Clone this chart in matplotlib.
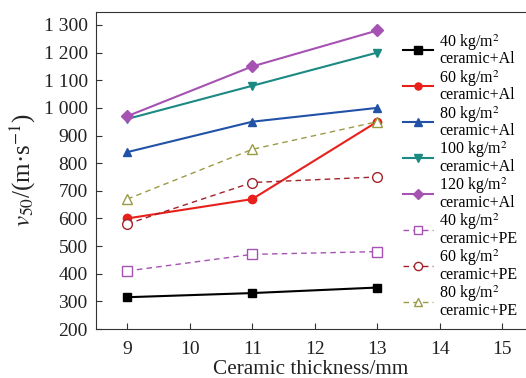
import matplotlib
matplotlib.use("Agg")
import matplotlib.pyplot as plt

thickness = [9, 11, 13]
al_40 = [315, 330, 350]
al_60 = [600, 670, 950]
al_80 = [840, 950, 1000]
al_100 = [960, 1080, 1200]
al_120 = [970, 1150, 1280]
pe_40 = [410, 470, 480]
pe_60 = [580, 730, 750]
pe_80 = [670, 850, 950]

labels = ["40 kg/m$^2$\nceramic+Al", "60 kg/m$^2$\nceramic+Al", "80 kg/m$^2$\nceramic+Al",
          "100 kg/m$^2$\nceramic+Al", "120 kg/m$^2$\nceramic+Al",
          "40 kg/m$^2$\nceramic+PE", "60 kg/m$^2$\nceramic+PE", "80 kg/m$^2$\nceramic+PE"]
xticks = [9, 10, 11, 12, 13, 14, 15]
yticks = [200, 300, 400, 500, 600, 700, 800, 900, 1000, 1100, 1200, 1300]
ytick_labels = ["200", "300", "400", "500", "600", "700", "800", "900",
                "1 000", "1 100", "1 200", "1 300"]

plt.rcParams['font.family'] = ['Liberation Serif', 'DejaVu Serif']
plt.rcParams['mathtext.fontset'] = 'stix'

fig = plt.figure(figsize=(5.26, 3.78), dpi=100)
ax = fig.add_axes([96/526, 1-329/378, 1-96/526, (329-11.7)/378])

series = [
    (al_40, dict(color='black', marker='s', ls='-', mfc='black')),
    (al_60, dict(color='#e8201c', marker='o', ls='-', mfc='#e8201c')),
    (al_80, dict(color='#2152a8', marker='^', ls='-', mfc='#2152a8')),
    (al_100, dict(color='#1b8a82', marker='v', ls='-', mfc='#1b8a82')),
    (al_120, dict(color='#a652b3', marker='D', ls='-', mfc='#a652b3')),
    (pe_40, dict(color='#a652b3', marker='s', ls='--', mfc='white')),
    (pe_60, dict(color='#a3232a', marker='o', ls='--', mfc='white')),
    (pe_80, dict(color='#9c9b45', marker='^', ls='--', mfc='white')),
]
for (vals, st), lab in zip(series, labels):
    lw = 1.5 if st['ls'] == '-' else 1.0
    ms = 6 if st['ls'] == '-' else 7
    if st['marker'] == 'D':
        ms = 6
    ax.plot(thickness, vals, color=st['color'], marker=st['marker'], ls=st['ls'],
            mfc=st['mfc'], mec=st['color'], lw=lw, ms=ms, label=lab,
            dashes=(4, 3) if st['ls'] == '--' else (None, None))

ax.set_xlim(8.5, 8.5 + 430/62.5)
ax.set_ylim(200, 1348)
ax.set_xticks(xticks)
ax.set_xticklabels([str(t) for t in xticks])
ax.set_yticks(yticks)
ax.set_yticklabels(ytick_labels)
ax.tick_params(direction='in', labelsize=14, length=4, color='#333333', labelcolor='#222222')
ax.tick_params(axis='x', pad=9)
ax.tick_params(axis='y', pad=6)
ax.spines['right'].set_visible(False)
for s in ['top', 'left', 'bottom']:
    ax.spines[s].set_color('#333333')
ax.set_xlabel("Ceramic thickness/mm", fontsize=15.3, labelpad=1, color='#222222')
ax.set_ylabel("$v_{50}$/(m·s$^{-1}$)", fontsize=18, labelpad=4, color='#222222')

leg = fig.legend(loc='upper left', bbox_to_anchor=(403/526, 1-32/378), frameon=False,
                 fontsize=11.5, handlelength=1.9, handletextpad=0.35, labelspacing=0.05,
                 borderaxespad=0, borderpad=0, markerscale=0.85)
for t in leg.get_texts():
    t.set_linespacing(0.88)

fig.savefig("out.png", dpi=100)
